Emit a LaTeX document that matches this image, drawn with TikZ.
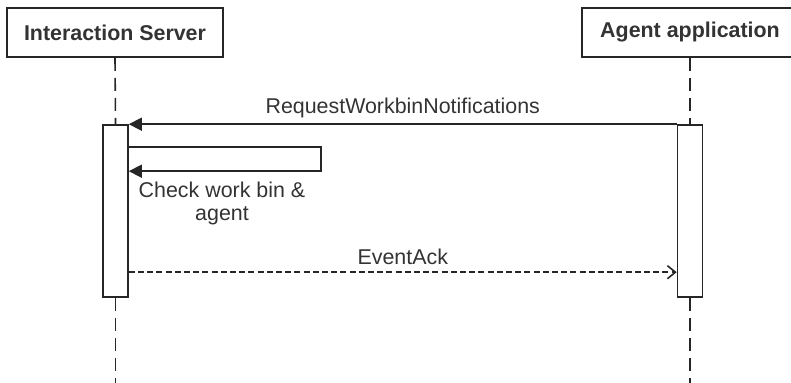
\documentclass[tikz,border=0pt]{standalone}
\usepackage{fontspec}
\setmainfont{Liberation Sans}
\usetikzlibrary{arrows.meta}
\definecolor{umlline}{gray}{0.15}
\definecolor{umltext}{gray}{0.2}

\tikzset{
  actor/.style={draw=umlline, line width=0.8pt, fill=white, minimum width=108pt,
    minimum height=24.5pt, font=\fontsize{10.7}{13}\selectfont\bfseries, text=umltext},
  activation/.style={draw=umlline, line width=0.8pt, fill=white, minimum width=12.5pt,
    minimum height=86pt, inner sep=0pt},
  lifeline/.style={draw=umlline, line width=0.8pt, dash pattern=on 6.5pt off 3.5pt},
  call/.style={draw=umlline, line width=0.8pt, -{Triangle[length=6.5pt,width=6.5pt]}},
  reply/.style={draw=umlline, line width=0.8pt, dash pattern=on 3pt off 1.6pt,
    -{Straight Barb[length=4pt,width=6.5pt]}},
  msglabel/.style={font=\fontsize{10.7}{11.5}\selectfont, text=umltext, inner sep=1pt}
}

\begin{document}
\begin{tikzpicture}[x=0.5pt,y=-0.5pt]
\useasboundingbox (0,0) rectangle (791,383);

% participants
\node[actor] (server) at (115,32.5) {Interaction Server};
\node[actor] (agent) at (690,32.5) {Agent application};

% activation bars
\node[activation] (serverbar) at (115.5,211) {};
\node[activation] (agentbar) at (690,211) {};

% lifelines
\coordinate (serverend) at (115.5,383);
\coordinate (agentend) at (690,383);
\draw[lifeline] (server.south) -- (serverbar.north);
\draw[lifeline] (agent.south) -- (agentbar.north);
\draw[lifeline] (serverbar.south) -- (serverend);
\draw[lifeline] (agentbar.south) -- (agentend);

% messages
\draw[call] (agentbar.north west) -- (serverbar.north east)
  node[msglabel, midway, above=1.5pt] (requestlbl) {RequestWorkbinNotifications};

\draw[call] ([yshift=-11.5pt]serverbar.north east) -- ++(192,0)
  |- ([yshift=-23.5pt]serverbar.north east);
\node[msglabel, align=center] (checklbl) at (222,203) {Check work bin \&\\agent};

\draw[reply] ([yshift=-74pt]serverbar.north east) -- ([yshift=-74pt]agentbar.north west)
  node[msglabel, midway, above=2.5pt] (acklbl) {EventAck};
\end{tikzpicture}
\end{document}
